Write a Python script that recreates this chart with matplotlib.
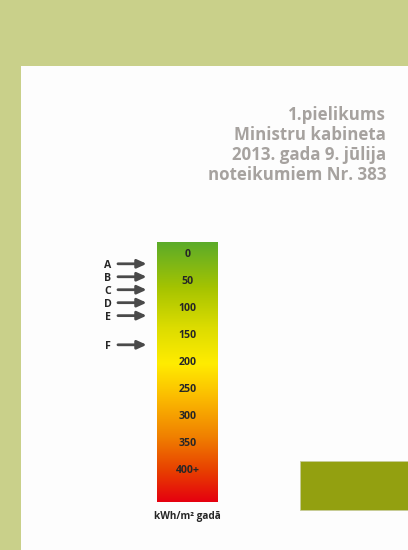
import numpy as np
import matplotlib
matplotlib.use("Agg")
import matplotlib.pyplot as plt
from matplotlib.colors import LinearSegmentedColormap
from matplotlib.patches import Rectangle

# scale labels inside the bar
scale_values = [0, 50, 100, 150, 200, 250, 300, 350, 400]
scale_labels = ["0", "50", "100", "150", "200", "250", "300", "350", "400+"]

# class arrows (position on the kWh scale)
class_letters = ["A", "B", "C", "D", "E", "F"]
class_values = [20, 44, 68, 92, 116, 170]

title_lines = ["1.pielikums", "Ministru kabineta", "2013. gada 9. jūlija", "noteikumiem Nr. 383"]
unit_label = "kWh/m² gadā"

plt.rcParams['font.family'] = ['Open Sans', 'DejaVu Sans']

W, H = 408, 550
fig = plt.figure(figsize=(W / 100, H / 100), dpi=100)
fig.patch.set_facecolor("#c9d08a")

# white page
fig.patches.append(Rectangle((21 / W, 0), 1, 1 - 66 / H, transform=fig.transFigure,
                             facecolor="#fdfdfd", edgecolor="none", zorder=-3))
# olive block
fig.patches.append(Rectangle((300 / W, (H - 510) / H), 108 / W, 49 / H, transform=fig.transFigure,
                             facecolor="#93a010", edgecolor="#c8cc9a", linewidth=0.6, zorder=-2))

ys = [115, 135, 155, 175]
for line, y in zip(title_lines, ys):
    fig.text(386 / W, 1 - y / H, line, ha="right", va="center", fontsize=12.2,
             fontweight="bold", color="#a6a29f")

# gradient bar
bar_top, bar_bot = 242, 502
ax = fig.add_axes([157 / W, (H - bar_bot) / H, 61 / W, (bar_bot - bar_top) / H])
px_per_unit = 27 / 50
y_top = (bar_top - 253) / px_per_unit
y_bot = (bar_bot - 253) / px_per_unit
cmap = LinearSegmentedColormap.from_list("energy", [
    (0.0, "#5aab2a"), (0.18, "#a6c400"), (0.33, "#dcdc00"), (0.47, "#ffec00"),
    (0.6, "#fbbb00"), (0.75, "#f08000"), (0.88, "#e84000"), (1.0, "#e5000f")])
grad = np.linspace(0, 1, 256).reshape(-1, 1)
ax.imshow(grad, cmap=cmap, aspect="auto", extent=(0, 1, y_bot, y_top))
ax.set_xlim(0, 1)
ax.set_ylim(y_bot, y_top)
ax.axis("off")

for v, lab in zip(scale_values, scale_labels):
    ax.text(0.5, v, lab, ha="center", va="center_baseline", fontsize=7.6, fontweight="bold",
            color="#262626")

for v, letter in zip(class_values, class_letters):
    ax.annotate("", xy=(-0.17, v), xytext=(-0.64, v),
                arrowprops=dict(arrowstyle="-|>,head_length=0.55,head_width=0.25",
                                color="#4a4a4a", lw=2.0, shrinkA=0, shrinkB=0),
                annotation_clip=False)
    ax.text(-0.81, v, letter, ha="center", va="center_baseline", fontsize=7.6, fontweight="bold",
            color="#262626", clip_on=False)

fig.text(187 / W, 1 - 516 / H, unit_label, ha="center", va="center", fontsize=7.2,
         fontweight="bold", color="#262626")

fig.savefig("out.png", dpi=100, facecolor=fig.get_facecolor())
